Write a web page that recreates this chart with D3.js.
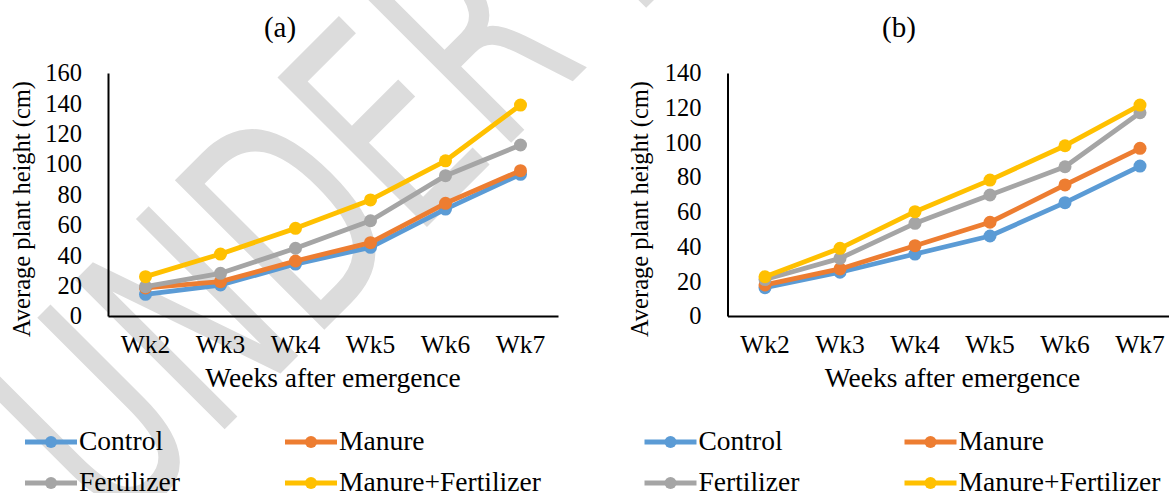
<!DOCTYPE html>
<html><head><meta charset="utf-8">
<script src="https://cdn.jsdelivr.net/npm/d3@7"></script>
<style>body{margin:0;background:#fff}svg{display:block}</style>
</head><body>
<svg id="c" width="1169" height="493"></svg>
<script>
const weeks = ["Wk2","Wk3","Wk4","Wk5","Wk6","Wk7"];
const seriesNames = ["Control","Manure","Fertilizer","Manure+Fertilizer"];
const colors = ["#5B9BD5","#ED7D31","#A5A5A5","#FFC000"];

const controlA = [14.3, 20.4, 34.2, 45.2, 70.4, 93.3];
const manureA  = [18.5, 22.6, 36.2, 48.3, 74.2, 95.7];
const fertA    = [19.3, 28.1, 44.6, 62.7, 92.4, 112.6];
const mfA      = [25.9, 40.8, 57.7, 76.4, 102.2, 138.9];

const controlB = [16.3, 25.2, 35.7, 46.1, 65.3, 86.4];
const manureB  = [17.9, 27.1, 40.5, 54.0, 75.5, 96.6];
const fertB    = [21.0, 33.2, 53.4, 69.7, 86.0, 117.1];
const mfB      = [22.6, 39.0, 60.1, 78.3, 98.1, 121.5];

const ticksA = [0,20,40,60,80,100,120,140,160];
const ticksB = [0,20,40,60,80,100,120,140];

const svg = d3.select("#c");
const serif = "Liberation Serif, Times New Roman, serif";

// watermark
const wm = svg.append("g").attr("transform","translate(114,540) rotate(-45)");
wm.append("text").attr("transform","scale(0.65,1)")
  .attr("font-family","DejaVu Sans, sans-serif").attr("font-size",290)
  .attr("fill","#dcdcdc").text("UNDER REVIEW");

const panels = [
  {title:"(a)", titleX:280, x0:108, x1:558, ticks:ticksA, data:[controlA,manureA,fertA,mfA], yTitleX:30, lx:0},
  {title:"(b)", titleX:899, x0:727.5, x1:1177.5, ticks:ticksB, data:[controlB,manureB,fertB,mfB], yTitleX:648, lx:619.5}
];
const yTop = 73, yBot = 316;

panels.forEach(p => {
  const x = d3.scaleBand().domain(weeks).range([p.x0, p.x1]).padding(0);
  const y = d3.scaleLinear().domain([0, d3.max(p.ticks)]).range([yBot, yTop]);
  const g = svg.append("g");

  g.append("text").attr("x", p.titleX).attr("y", 37).attr("text-anchor","middle")
    .attr("font-family", serif).attr("font-size", 29).text(p.title);

  const ya = g.append("g").attr("transform", `translate(${p.x0},0)`)
    .call(d3.axisLeft(y).tickValues(p.ticks).tickSize(0).tickSizeOuter(0).tickPadding(26));
  ya.attr("font-family", serif);
  ya.select(".domain").attr("stroke","#000").attr("stroke-width",2);
  ya.selectAll("text").attr("font-family", serif).attr("font-size", 24.5).attr("fill","#000");

  const xa = g.append("g").attr("transform", `translate(0,${yBot})`)
    .call(d3.axisBottom(x).tickSize(0).tickSizeOuter(0).tickPadding(19));
  xa.attr("font-family", serif);
  xa.select(".domain").attr("stroke","#000").attr("stroke-width",2);
  xa.selectAll("text").attr("font-family", serif).attr("font-size", 25.5).attr("fill","#000");

  g.append("text").attr("x",(p.x0+p.x1)/2).attr("y",387).attr("text-anchor","middle")
    .attr("font-family", serif).attr("font-size", 27.5).text("Weeks after emergence");

  g.append("text").attr("transform", `translate(${p.yTitleX},209) rotate(-90)`).attr("text-anchor","middle")
    .attr("font-family", serif).attr("font-size", 24.5).text("Average plant height (cm)");

  const line = d3.line().x((d,i) => x(weeks[i]) + x.bandwidth()/2).y(d => y(d));
  p.data.forEach((vals, si) => {
    g.append("path").datum(vals).attr("d", line).attr("fill","none")
      .attr("stroke", colors[si]).attr("stroke-width", 4.8).attr("stroke-linejoin","round");
    g.selectAll(null).data(vals).enter().append("circle")
      .attr("cx", (d,i) => x(weeks[i]) + x.bandwidth()/2).attr("cy", d => y(d))
      .attr("r", 6.5).attr("fill", colors[si]);
  });

  // legend
  const lpos = [[25,442],[285,442],[25,483],[285,483]];
  seriesNames.forEach((n, si) => {
    const [lx, ly] = lpos[si];
    const X = lx + p.lx;
    g.append("line").attr("x1", X).attr("x2", X+52).attr("y1", ly).attr("y2", ly)
      .attr("stroke", colors[si]).attr("stroke-width", 4.8);
    g.append("circle").attr("cx", X+26).attr("cy", ly).attr("r", 6).attr("fill", colors[si]);
    g.append("text").attr("x", X+54).attr("y", ly+8).attr("font-family", serif)
      .attr("font-size", 27.5).text(n);
  });
});
</script>
</body></html>
